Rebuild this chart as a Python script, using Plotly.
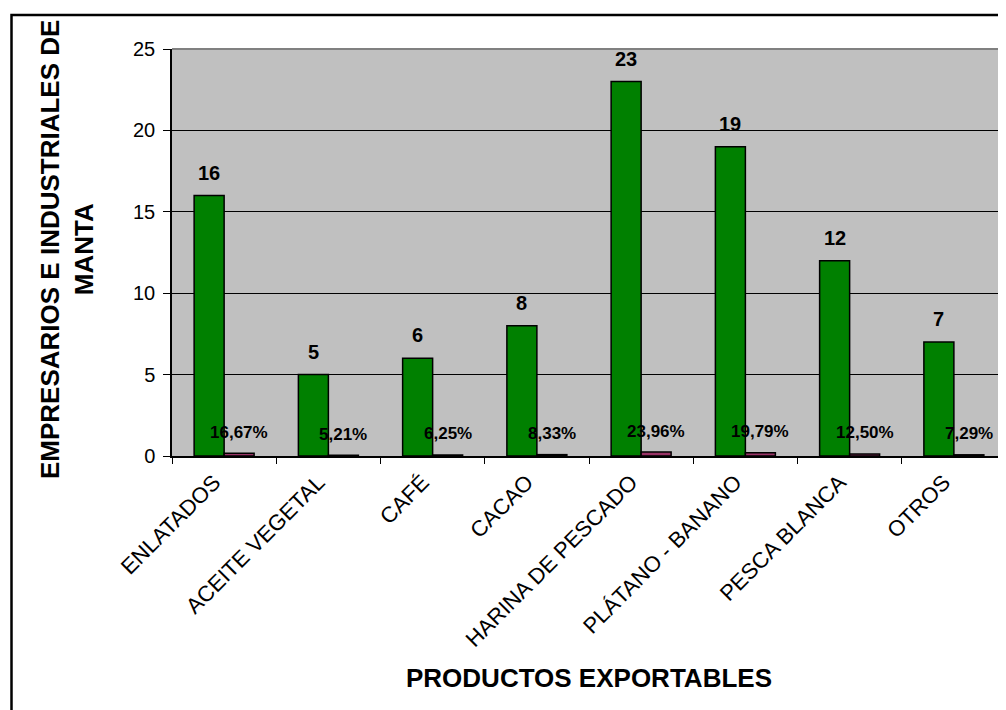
import plotly.graph_objects as go

categories = ["ENLATADOS", "ACEITE VEGETAL", "CAFÉ", "CACAO", "HARINA DE PESCADO",
              "PLÁTANO - BANANO", "PESCA BLANCA", "OTROS"]
counts = [16, 5, 6, 8, 23, 19, 12, 7]
percents = [0.1667, 0.0521, 0.0625, 0.0833, 0.2396, 0.1979, 0.1250, 0.0729]
percent_labels = ["16,67%", "5,21%", "6,25%", "8,33%", "23,96%", "19,79%", "12,50%", "7,29%"]
y_ticks = [0, 5, 10, 15, 20, 25]

FONT = "Arial, 'Liberation Sans', sans-serif"
OFF = 8  # page body margin
W, H = 1006, 710
# page-coordinate targets
PL, PR, PT, PB = 172, 1006, 49, 456
L, T = PL - OFF, PT - OFF
R = W - (PR - OFF)
B = H - (PB - OFF)
pw, ph = W - L - R, H - T - B

def px_x(x):  # page x -> paper
    return (x - OFF - L) / pw

def px_y(y):  # page y -> paper
    return (PB - y) / ph

fig = go.Figure()
fig.add_trace(go.Bar(x=categories, y=counts, marker=dict(color="#008000", line=dict(color="black", width=1.5)),
                     name="Empresarios", hoverinfo="x+y"))
fig.add_trace(go.Bar(x=categories, y=percents, marker=dict(color="#993366", line=dict(color="black", width=1.5)),
                     name="Porcentaje", hoverinfo="x+y"))

annotations = []
for c, v in zip(categories, counts):
    annotations.append(dict(x=c, y=v, xref="x", yref="y", text=f"<b>{v}</b>", showarrow=False,
                            xshift=-15, yshift=23, xanchor="center", yanchor="middle",
                            font=dict(family=FONT, size=20, color="black")))
for c, v, t in zip(categories, percents, percent_labels):
    annotations.append(dict(x=c, y=v, xref="x", yref="y", text=f"<b>{t}</b>", showarrow=False,
                            xshift=15, yshift=21, xanchor="center", yanchor="middle",
                            font=dict(family=FONT, size=17, color="black")))
annotations.append(dict(x=px_x(67), y=px_y(250), xref="paper", yref="paper",
                        text="<b>EMPRESARIOS E INDUSTRIALES DE<br>MANTA</b>", textangle=-90,
                        showarrow=False, xanchor="center", yanchor="middle",
                        font=dict(family=FONT, size=26, color="black")))
annotations.append(dict(x=px_x(589), y=px_y(678), xref="paper", yref="paper",
                        text="<b>PRODUCTOS EXPORTABLES</b>", showarrow=False,
                        xanchor="center", yanchor="middle",
                        font=dict(family=FONT, size=26, color="black")))

shapes = [
    dict(type="rect", xref="paper", yref="paper", x0=px_x(11.5), y0=px_y(780), x1=px_x(1040), y1=px_y(15),
         line=dict(color="black", width=2.5), layer="below"),
    dict(type="line", xref="paper", yref="paper", x0=0, x1=1, y0=1, y1=1,
         line=dict(color="#808080", width=2)),
]

fig.update_layout(
    width=W, height=H,
    margin=dict(l=L, r=R, t=T, b=B),
    paper_bgcolor="white", plot_bgcolor="#C0C0C0",
    barmode="group", bargap=0.4245, bargroupgap=0,
    showlegend=False,
    font=dict(family=FONT, size=20, color="black"),
    annotations=annotations, shapes=shapes,
    xaxis=dict(type="category", tickangle=-45, tickson="boundaries", ticks="outside", ticklen=6,
               tickcolor="black", showline=True, linecolor="black", linewidth=1.5,
               ticklabelshift=-10, ticklabelstandoff=3,
               tickfont=dict(family=FONT, size=22, color="black"), showgrid=False),
    yaxis=dict(range=[0, 25], tickvals=y_ticks, ticks="outside", ticklen=7, tickcolor="black",
               showline=True, linecolor="black", linewidth=1.5, showgrid=True, gridcolor="black",
               gridwidth=1, zeroline=False, ticklabelstandoff=4,
               tickfont=dict(family=FONT, size=20, color="black")),
)

fig.write_html("out.html")
